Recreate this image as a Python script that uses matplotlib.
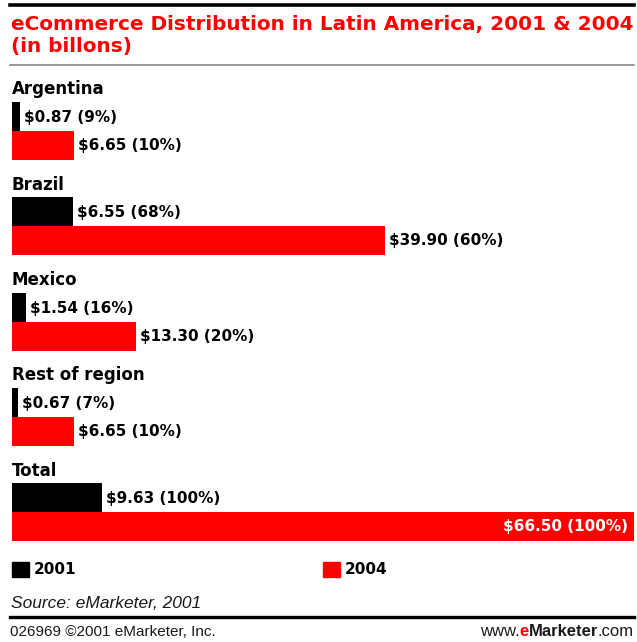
import matplotlib
matplotlib.use("Agg")
import matplotlib.pyplot as plt
from matplotlib.lines import Line2D

# Data (US$ billions)
regions = ["Argentina", "Brazil", "Mexico", "Rest of region", "Total"]
values_2001 = [0.87, 6.55, 1.54, 0.67, 9.63]
share_2001 = [9, 68, 16, 7, 100]
values_2004 = [6.65, 39.90, 13.30, 6.65, 66.50]
share_2004 = [10, 60, 20, 10, 100]
years = ["2001", "2004"]

W, H = 637, 642
fig = plt.figure(figsize=(W / 100, H / 100), dpi=100)
fig.patch.set_facecolor("white")

def fx(px):
    return px / W

def fy(py):
    return 1 - py / H

BOLD = "DejaVu Sans"
PLAIN = "Liberation Sans"
RED = "#ff0000"

# Header rules and title
fig.add_artist(Line2D([fx(10), fx(634)], [fy(5), fy(5)], color="black", lw=2.6))
fig.text(fx(11), fy(24.5), "eCommerce Distribution in Latin America, 2001 & 2004",
         color=RED, fontsize=14.4, fontweight="bold", family=BOLD, va="center", ha="left")
fig.text(fx(11), fy(46.5), "(in billons)",
         color=RED, fontsize=14.4, fontweight="bold", family=BOLD, va="center", ha="left")
fig.add_artist(Line2D([fx(10), fx(634)], [fy(65), fy(65)], color="#888888", lw=1.2))

# Bar area: x in data units, y in pixel rows of the figure
left_px, right_px = 12, 634
top_px, bot_px = 70, 550
ax = fig.add_axes([fx(left_px), fy(bot_px), fx(right_px - left_px), (bot_px - top_px) / H])
ax.set_xlim(0, values_2004[-1])
ax.set_ylim(bot_px, top_px)
ax.axis("off")

bar_h = 29
step = 95.25
first_center = 116.5
for i, name in enumerate(regions):
    yb = first_center + step * i
    yr = yb + bar_h
    ax.text(0, yb - 27, name, fontsize=12, fontweight="bold", family=BOLD,
            va="center", ha="left", color="black")
    ax.barh(yb, values_2001[i], height=bar_h, color="black", left=0)
    ax.barh(yr, values_2004[i], height=bar_h, color=RED, left=0)
    ax.annotate(f"${values_2001[i]:.2f} ({share_2001[i]}%)", xy=(values_2001[i], yb + 1),
                xytext=(4, 0), textcoords="offset pixels", fontsize=11,
                fontweight="bold", family=BOLD, va="center", ha="left", color="black")
    label_2004 = f"${values_2004[i]:.2f} ({share_2004[i]}%)"
    if i == len(regions) - 1:
        ax.annotate(label_2004, xy=(values_2004[i], yr), xytext=(-6, 0),
                    textcoords="offset pixels", fontsize=11, fontweight="bold",
                    family=BOLD, va="center", ha="right", color="white")
    else:
        ax.annotate(label_2004, xy=(values_2004[i], yr), xytext=(4, 0),
                    textcoords="offset pixels", fontsize=11, fontweight="bold",
                    family=BOLD, va="center", ha="left", color="black")

# Legend
for x0, colour, year in [(12, "black", years[0]), (323, RED, years[1])]:
    fig.patches.append(plt.Rectangle((fx(x0), fy(577)), fx(17), 15 / H,
                                     transform=fig.transFigure, color=colour))
    fig.text(fx(x0 + 22), fy(569.5), year, fontsize=11, fontweight="bold", family=BOLD,
             va="center", ha="left", color="black")

# Source and footer
fig.text(fx(11), fy(603), "Source: eMarketer, 2001", fontsize=12.5, style="italic",
         family=PLAIN, va="center", ha="left", color="#1a1a1a")
fig.add_artist(Line2D([fx(10), fx(634)], [fy(617), fy(617)], color="black", lw=2.4))
fig.text(fx(10), fy(632), "026969 \u00a92001 eMarketer, Inc.", fontsize=11,
         family=PLAIN, va="center", ha="left", color="#1a1a1a")

# Web address with the red "e" and bold "Marketer"
r = fig.canvas.get_renderer()
parts = [(".com", "normal", "#1a1a1a"), ("Marketer", "bold", "#1a1a1a"),
         ("e", "bold", RED), ("www.", "normal", "#1a1a1a")]
x_right = fx(634)
for txt, weight, colour in parts:
    t = fig.text(x_right, fy(632), txt, fontsize=12, fontweight=weight,
                 family=PLAIN, va="center", ha="right", color=colour)
    bb = t.get_window_extent(renderer=r)
    x_right -= bb.width / W

fig.savefig("out.png", dpi=100, facecolor="white")
